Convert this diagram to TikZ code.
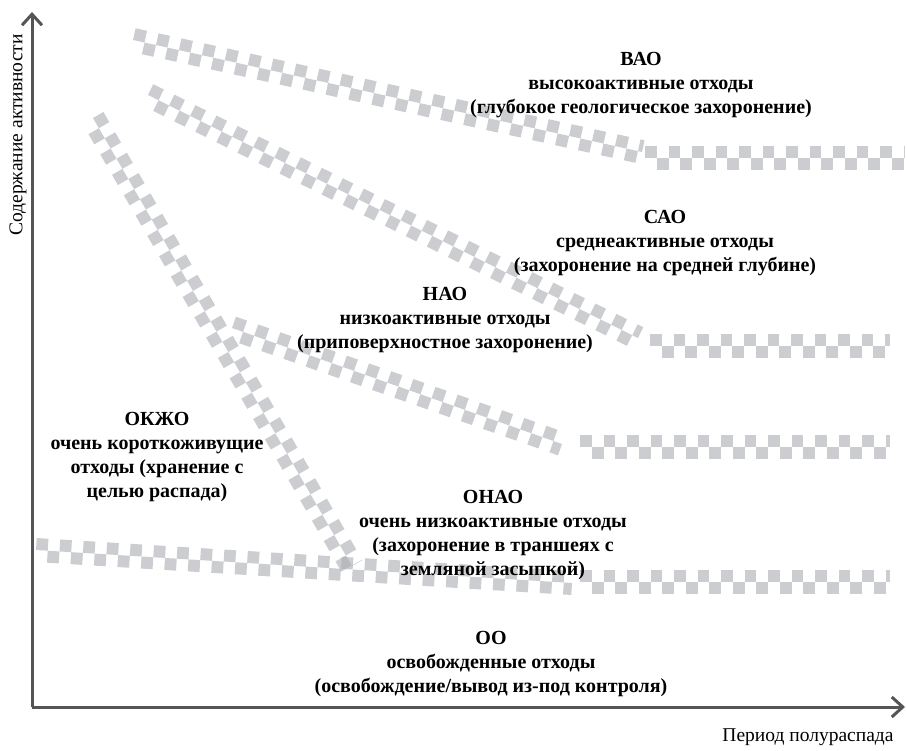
\documentclass[tikz,border=0pt]{standalone}
\usepackage{fontspec}
\setmainfont{Liberation Serif}
\usepackage{tikz}
\usetikzlibrary{calc,arrows.meta}

\definecolor{bandgray}{RGB}{170,172,176}
\definecolor{axisgray}{RGB}{85,85,85}

\tikzset{
  sqrow/.style={line width=12pt, draw=bandgray, opacity=.6, dash pattern=on 11.75pt off 11.75pt},
  sqrowb/.style={sqrow, dash phase=11.75pt},
  lbl/.style={font=\fontsize{20}{24}\selectfont\bfseries, align=center},
  axlbl/.style={font=\fontsize{19.5}{22}\selectfont},
  axis/.style={line width=3pt, draw=axisgray, -{Straight Barb[length=11pt,width=20pt]}},
}
% checkered band between two named coordinates
\newcommand{\band}[2]{%
  \draw[sqrow] ($(#1)!6pt!90:(#2)$) -- ($(#2)!6pt!-90:(#1)$);
  \draw[sqrowb] ($(#1)!6pt!-90:(#2)$) -- ($(#2)!6pt!90:(#1)$);
}

\begin{document}
\begin{tikzpicture}[x=1pt,y=-1pt]
\useasboundingbox (0,0) rectangle (907,751);

% band end points
\coordinate (V1) at (133,40);  \coordinate (V2) at (642,152);
\coordinate (V3) at (645,158); \coordinate (V4) at (905,158);
\coordinate (S1) at (148,95);  \coordinate (S2) at (638,338);
\coordinate (S3) at (650,346); \coordinate (S4) at (890,346);
\coordinate (N1) at (232,328); \coordinate (N2) at (562,444);
\coordinate (N3) at (580,447); \coordinate (N4) at (890,447);
\coordinate (K1) at (93,118);  \coordinate (K2) at (352,566);
\coordinate (O1) at (36,550);  \coordinate (O2) at (572,583);
\coordinate (O3) at (580,582); \coordinate (O4) at (890,582);

\band{V1}{V2} \band{V3}{V4}
\band{S1}{S2} \band{S3}{S4}
\band{N1}{N2} \band{N3}{N4}
\band{K1}{K2}
\band{O1}{O2} \band{O3}{O4}

% axes
\coordinate (A0) at (32,707);
\coordinate (AY) at (32,12);
\coordinate (AX) at (905,707);
\draw[axis] (A0) -- (AY);
\draw[axis] (A0) -- (AX);
\node (ylab) at (18,135) [rotate=90, axlbl] {Содержание активности};
\node (xlab) at (808,737) [axlbl] {Период полураспада};

% waste classes
\node (vao) at (641,85) [lbl] {ВАО\\высокоактивные отходы\\(глубокое геологическое захоронение)};
\node (sao) at (665,243) [lbl] {САО\\среднеактивные отходы\\(захоронение на средней глубине)};
\node (nao) at (445,320) [lbl] {НАО\\низкоактивные отходы\\(приповерхностное захоронение)};
\node (okzho) at (157,457) [lbl] {ОКЖО\\очень короткоживущие\\отходы (хранение с\\целью распада)};
\node (onao) at (493,535) [lbl] {ОНАО\\очень низкоактивные отходы\\(захоронение в траншеях с\\земляной засыпкой)};
\node (oo) at (491,664) [lbl] {ОО\\освобожденные отходы\\(освобождение/вывод из-под контроля)};
\end{tikzpicture}
\end{document}
